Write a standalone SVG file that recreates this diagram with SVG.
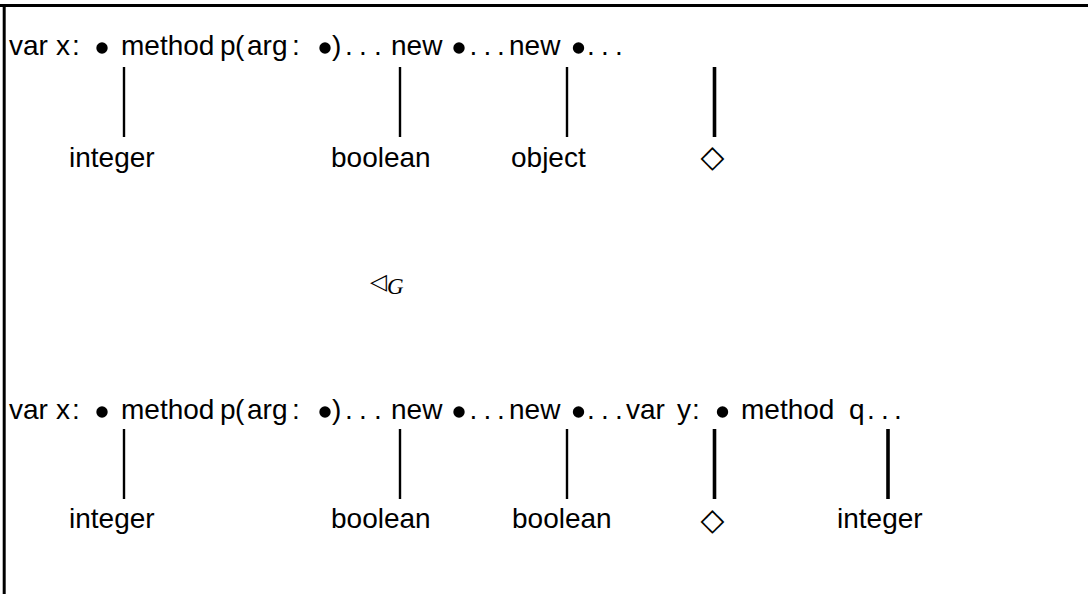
<svg xmlns="http://www.w3.org/2000/svg" width="1088" height="594" viewBox="0 0 1088 594">
  <style>
    .t { font-family: "Liberation Sans", Arial, sans-serif; font-size: 28px; fill: #000; }
    .sym { font-family: "DejaVu Sans", sans-serif; fill: #000; }
    .g { font-family: "Liberation Serif", "Times New Roman", serif; font-style: italic; font-size: 23px; fill: #000; }
    .thin { stroke: #000; stroke-width: 2.4; }
    .thick { stroke: #000; stroke-width: 3.6; }
    .frame { stroke: #000; stroke-width: 3; fill: none; }
  </style>
  <defs>
    <circle id="bul" r="5.7" fill="#000"/>
  </defs>

  <!-- frame: top and left rules -->
  <g id="frame">
    <line class="frame" x1="0" y1="5.5" x2="1088" y2="5.5"/>
    <line class="frame" x1="4.2" y1="4" x2="4.2" y2="594"/>
  </g>

  <!-- upper term -->
  <g id="term-upper">
    <text class="t" x="9" y="55">var</text>
    <text class="t" x="56" y="55">x<tspan x="72">:</tspan></text>
    <use href="#bul" x="102" y="48"/>
    <text class="t" x="121" y="55">method</text>
    <text class="t" x="220" y="55">p<tspan x="235">(</tspan><tspan x="247">arg</tspan><tspan x="292">:</tspan></text>
    <use href="#bul" x="325" y="48"/>
    <text class="t" x="332" y="55">)</text>
    <text class="t" x="345.1 359.1 374.1" y="55">...</text>
    <text class="t" x="391" y="55">new</text>
    <use href="#bul" x="459" y="48"/>
    <text class="t" x="469.6 483.6 497.1" y="55">...</text>
    <text class="t" x="509" y="55">new</text>
    <use href="#bul" x="578.5" y="48"/>
    <text class="t" x="587.1 601.1 615.1" y="55">...</text>
  </g>

  <!-- labels under the upper term -->
  <g id="u-integer"><text class="t" x="69" y="167">integer</text></g>
  <g id="u-boolean"><text class="t" x="331" y="167">boolean</text></g>
  <g id="u-object"><text class="t" x="511" y="167">object</text></g>
  <g id="u-diamond"><text class="sym" x="712.5" y="167" font-size="31" text-anchor="middle">◇</text></g>

  <!-- relation between the two terms -->
  <g id="relation">
    <text class="sym" x="370" y="289" font-size="22">◁</text>
    <text class="g" x="387" y="294">G</text>
  </g>

  <!-- lower term -->
  <g id="term-lower">
    <text class="t" x="9" y="419">var</text>
    <text class="t" x="56" y="419">x<tspan x="72">:</tspan></text>
    <use href="#bul" x="102" y="412"/>
    <text class="t" x="121" y="419">method</text>
    <text class="t" x="220" y="419">p<tspan x="235">(</tspan><tspan x="247">arg</tspan><tspan x="292">:</tspan></text>
    <use href="#bul" x="325" y="412"/>
    <text class="t" x="332" y="419">)</text>
    <text class="t" x="345.1 359.1 374.1" y="419">...</text>
    <text class="t" x="391" y="419">new</text>
    <use href="#bul" x="459" y="412"/>
    <text class="t" x="469.6 483.6 497.1" y="419">...</text>
    <text class="t" x="509" y="419">new</text>
    <use href="#bul" x="578.5" y="412"/>
    <text class="t" x="587.1 601.1 615.1" y="419">...</text>
    <text class="t" x="626" y="419">var</text>
    <text class="t" x="677" y="419">y<tspan x="692">:</tspan></text>
    <use href="#bul" x="722.5" y="412"/>
    <text class="t" x="741" y="419">method</text>
    <text class="t" x="849" y="419">q</text>
    <text class="t" x="867.1 881.1 894.1" y="419">...</text>
  </g>

  <!-- labels under the lower term -->
  <g id="l-integer"><text class="t" x="69" y="528">integer</text></g>
  <g id="l-boolean-1"><text class="t" x="331" y="528">boolean</text></g>
  <g id="l-boolean-2"><text class="t" x="512" y="528">boolean</text></g>
  <g id="l-diamond"><text class="sym" x="712.5" y="530" font-size="31" text-anchor="middle">◇</text></g>
  <g id="l-integer-2"><text class="t" x="837" y="528">integer</text></g>

  <!-- connectors from holes to their labels -->
  <g id="connectors">
    <line class="thin" x1="124" y1="67" x2="124" y2="137"/>
    <line class="thin" x1="400" y1="67" x2="400" y2="137"/>
    <line class="thin" x1="567" y1="67" x2="567" y2="137"/>
    <line class="thick" x1="714.5" y1="67" x2="714.5" y2="137"/>

    <line class="thin" x1="124" y1="429" x2="124" y2="499"/>
    <line class="thin" x1="400" y1="429" x2="400" y2="499"/>
    <line class="thin" x1="567" y1="429" x2="567" y2="499"/>
    <line class="thick" x1="714.5" y1="429" x2="714.5" y2="499"/>
    <line class="thick" x1="888" y1="429" x2="888" y2="499"/>
  </g>
</svg>
